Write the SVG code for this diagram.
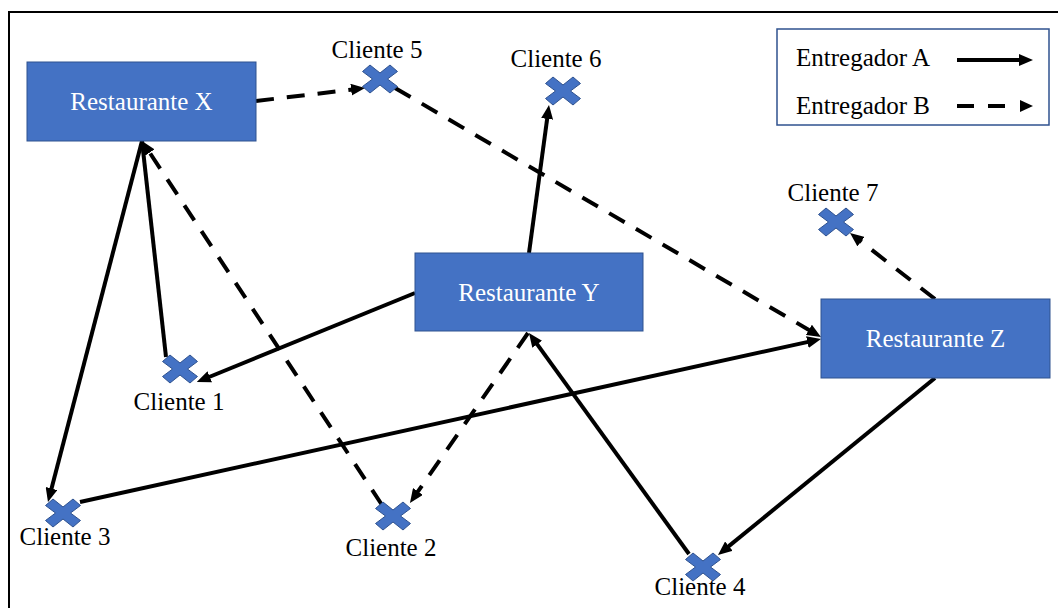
<svg xmlns="http://www.w3.org/2000/svg" xmlns:xlink="http://www.w3.org/1999/xlink" width="1058" height="608" viewBox="0 0 1058 608">
<style>
.box{fill:#4472C4;stroke:#2F528F;stroke-width:1}
.btxt{font-family:"Liberation Serif","Times New Roman",serif;font-size:25px;fill:#FFFFFF;text-anchor:middle}
.ctxt{font-family:"Liberation Serif","Times New Roman",serif;font-size:25px;fill:#000000;text-anchor:middle}
.ltxt{font-family:"Liberation Serif","Times New Roman",serif;font-size:25px;fill:#000000}
.xm{fill:#4472C4;stroke:#2F528F;stroke-width:1}
.solid{fill:none;stroke:#000;stroke-width:4;marker-end:url(#ah)}
.plain{fill:none;stroke:#000;stroke-width:4}
.dash{fill:none;stroke:#000;stroke-width:4;stroke-dasharray:18 13;marker-end:url(#ah)}
</style>
<defs>
<marker id="ah" markerUnits="userSpaceOnUse" markerWidth="14" markerHeight="12" viewBox="0 0 14 12" refX="2" refY="6" orient="auto">
<path d="M0,0 L14,6 L0,12 Z" fill="#000"/>
</marker>
<path id="xm" d="M-17.5,-7.5 L-10,-14 L0,-6 L10,-14 L17.5,-7.5 L7.5,0 L17.5,7.5 L10,14 L0,6 L-10,14 L-17.5,7.5 L-7.5,0 Z"/>
</defs>
<rect width="1058" height="608" fill="#FFFFFF"/>
<path d="M9,608 V12 H1058" fill="none" stroke="#000" stroke-width="2"/>

<g id="connectors">
<line class="dash" x1="256" y1="101" x2="353.1" y2="89.4"/>
<line class="dash" x1="395" y1="88" x2="810.6" y2="330.9"/>
<line class="solid" x1="529" y1="253" x2="547.4" y2="116.9"/>
<line class="dash" x1="935" y1="299" x2="859.5" y2="240.4"/>
<line class="solid" x1="935" y1="378" x2="727.3" y2="547.4"/>
<line class="solid" x1="689" y1="554" x2="536.0" y2="342.7"/>
<line class="dash" x1="528" y1="333" x2="416.8" y2="493.1"/>
<line class="dash" x1="382" y1="505" x2="148.6" y2="151.0"/>
<line class="plain" x1="166" y1="357" x2="142" y2="141"/>
<line class="solid" x1="142" y1="141" x2="51.0" y2="490.4"/>
<line class="solid" x1="80" y1="502" x2="809.3" y2="341.6"/>
<line class="solid" x1="415" y1="293" x2="207.9" y2="377.5"/>
</g>

<g id="restaurante-x">
<rect class="box" x="27" y="62" width="229" height="79"/>
<text class="btxt" x="141.5" y="110">Restaurante X</text>
</g>
<g id="restaurante-y">
<rect class="box" x="415" y="253" width="228" height="78"/>
<text class="btxt" x="529" y="301">Restaurante Y</text>
</g>
<g id="restaurante-z">
<rect class="box" x="821" y="299" width="229" height="79"/>
<text class="btxt" x="935.5" y="347">Restaurante Z</text>
</g>

<g id="cliente-1">
<use href="#xm" class="xm" x="180" y="369"/>
<text class="ctxt" x="179" y="410">Cliente 1</text>
</g>
<g id="cliente-2">
<use href="#xm" class="xm" x="393" y="516"/>
<text class="ctxt" x="391" y="556">Cliente 2</text>
</g>
<g id="cliente-3">
<use href="#xm" class="xm" x="63" y="513"/>
<text class="ctxt" x="65" y="545">Cliente 3</text>
</g>
<g id="cliente-4">
<use href="#xm" class="xm" x="703" y="567"/>
<text class="ctxt" x="700" y="595">Cliente 4</text>
</g>
<g id="cliente-5">
<use href="#xm" class="xm" x="380" y="79"/>
<text class="ctxt" x="377" y="58">Cliente 5</text>
</g>
<g id="cliente-6">
<use href="#xm" class="xm" x="563" y="91"/>
<text class="ctxt" x="556" y="67">Cliente 6</text>
</g>
<g id="cliente-7">
<use href="#xm" class="xm" x="836" y="222"/>
<text class="ctxt" x="833" y="201">Cliente 7</text>
</g>

<g id="legend">
<rect x="777" y="29" width="272" height="96" fill="#FFFFFF" stroke="#2F528F" stroke-width="1.5"/>
<text class="ltxt" x="796" y="66">Entregador A</text>
<text class="ltxt" x="796" y="114">Entregador B</text>
<line class="solid" x1="957" y1="60" x2="1021" y2="60"/>
<line x1="957" y1="106" x2="1006" y2="106" stroke="#000" stroke-width="4" stroke-dasharray="17 14"/>
<path d="M1020,100 L1033,106 L1020,112 Z" fill="#000"/>
</g>
</svg>
